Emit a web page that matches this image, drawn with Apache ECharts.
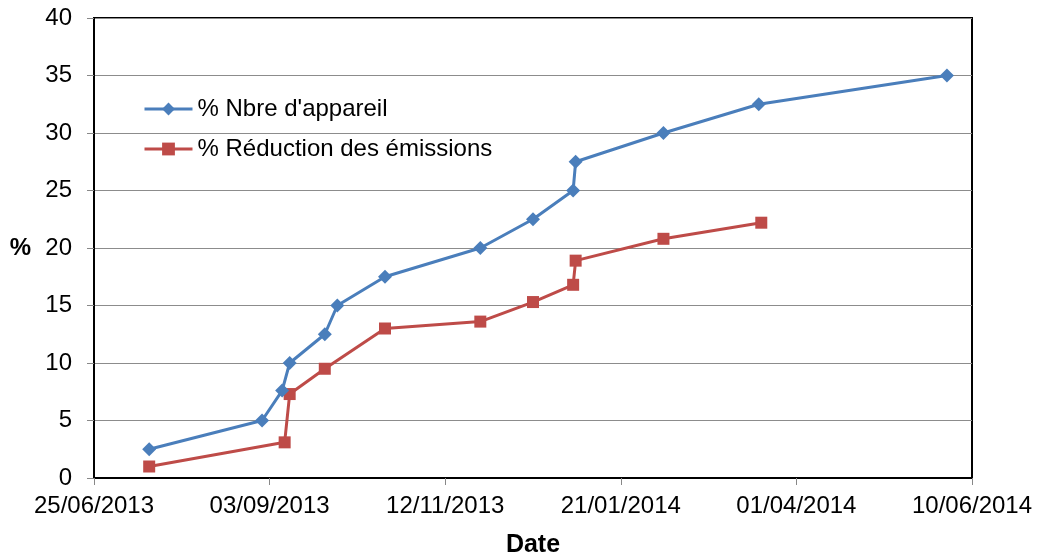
<!DOCTYPE html>
<html>
<head>
<meta charset="utf-8">
<script src="https://cdn.jsdelivr.net/npm/echarts@6/dist/echarts.min.js"></script>
<style>
  html, body { margin: 0; padding: 0; background: #ffffff; }
  #chart { width: 1039px; height: 556px; }
</style>
</head>
<body>
<div id="chart"></div>
<script>
// Date axis: starts 25/06/2013, one tick every 70 days up to 10/06/2014
const originDate = '2013-06-25';
const axisEndDate = '2014-06-10';
const tickStepDays = 70;

const seriesNames = ["% Nbre d'appareil", "% Réduction des émissions"];

// % Nbre d'appareil
const appareilDates = [
  '2013-07-17', '2013-08-31', '2013-09-08', '2013-09-11', '2013-09-25',
  '2013-09-30', '2013-10-19', '2013-11-26', '2013-12-17', '2014-01-02',
  '2014-01-03', '2014-02-07', '2014-03-17', '2014-05-31'
];
const appareilValues = [2.5, 5.0, 7.6, 10.0, 12.5, 15.0, 17.5, 20.0, 22.5, 25.0, 27.5, 30.0, 32.5, 35.0];

// % Réduction des émissions
const reductionDates = [
  '2013-07-17', '2013-09-09', '2013-09-11', '2013-09-25', '2013-10-19',
  '2013-11-26', '2013-12-17', '2014-01-02', '2014-01-03', '2014-02-07',
  '2014-03-18'
];
const reductionValues = [1.0, 3.1, 7.3, 9.5, 13.0, 13.6, 15.3, 16.8, 18.9, 20.8, 22.2];

const DAY_MS = 86400000;
const toMs = d => Date.parse(d + 'T00:00:00Z');
const originMs = toMs(originDate);
const toDays = d => (toMs(d) - originMs) / DAY_MS;
const pad = n => (n < 10 ? '0' : '') + n;
const fmtDate = days => {
  const dt = new Date(originMs + days * DAY_MS);
  return pad(dt.getUTCDate()) + '/' + pad(dt.getUTCMonth() + 1) + '/' + dt.getUTCFullYear();
};

const font = "'Liberation Sans', Arial, sans-serif";
const blue = '#4A7EBB';
const red = '#BE4B48';

const chart = echarts.init(document.getElementById('chart'));
chart.setOption({
  animation: false,
  backgroundColor: '#ffffff',
  textStyle: { fontFamily: font },
  grid: {
    left: 94, right: 67, top: 18, bottom: 78,
    containLabel: false,
    outerBoundsMode: 'none',
    show: true, borderColor: '#000000', borderWidth: 2
  },
  legend: {
    orient: 'vertical',
    left: 143, top: 97,
    padding: 0,
    itemWidth: 48, itemHeight: 16, itemGap: 16,
    lineStyle: { width: 3 },
    textStyle: { fontFamily: font, fontSize: 24, color: '#000000' },
    data: seriesNames
  },
  xAxis: {
    type: 'value',
    min: 0,
    max: toDays(axisEndDate),
    interval: tickStepDays,
    name: 'Date',
    nameLocation: 'middle',
    nameGap: 55,
    nameTextStyle: { fontFamily: font, fontSize: 25, fontWeight: 'bold', color: '#000000' },
    axisLine: { show: true, lineStyle: { color: '#000000', width: 2 } },
    axisTick: { show: true, inside: false, length: 7, lineStyle: { color: '#888888', width: 1 } },
    axisLabel: {
      fontFamily: font, fontSize: 24, color: '#000000', margin: 16,
      formatter: v => fmtDate(v)
    },
    splitLine: { show: false }
  },
  yAxis: {
    type: 'value',
    min: 0, max: 40, interval: 5,
    name: '%',
    nameLocation: 'middle',
    nameRotate: 0,
    nameGap: 63,
    nameTextStyle: { fontFamily: font, fontSize: 24, fontWeight: 'bold', color: '#000000' },
    axisLine: { show: true, lineStyle: { color: '#000000', width: 2 } },
    axisTick: { show: true, inside: false, length: 7, lineStyle: { color: '#888888', width: 1 } },
    axisLabel: { fontFamily: font, fontSize: 24, color: '#000000', margin: 22 },
    splitLine: { show: true, lineStyle: { color: '#8C8C8C', width: 1 } }
  },
  series: [
    {
      name: seriesNames[0],
      type: 'line',
      data: appareilDates.map((d, i) => [toDays(d), appareilValues[i]]),
      symbol: 'diamond',
      symbolSize: 14,
      showAllSymbol: true,
      lineStyle: { color: blue, width: 3 },
      itemStyle: { color: blue, borderColor: blue, borderWidth: 0 },
      z: 3
    },
    {
      name: seriesNames[1],
      type: 'line',
      data: reductionDates.map((d, i) => [toDays(d), reductionValues[i]]),
      symbol: 'rect',
      symbolSize: 12,
      showAllSymbol: true,
      lineStyle: { color: red, width: 3 },
      itemStyle: { color: red, borderColor: red, borderWidth: 0 },
      z: 2
    }
  ]
});
</script>
</body>
</html>
